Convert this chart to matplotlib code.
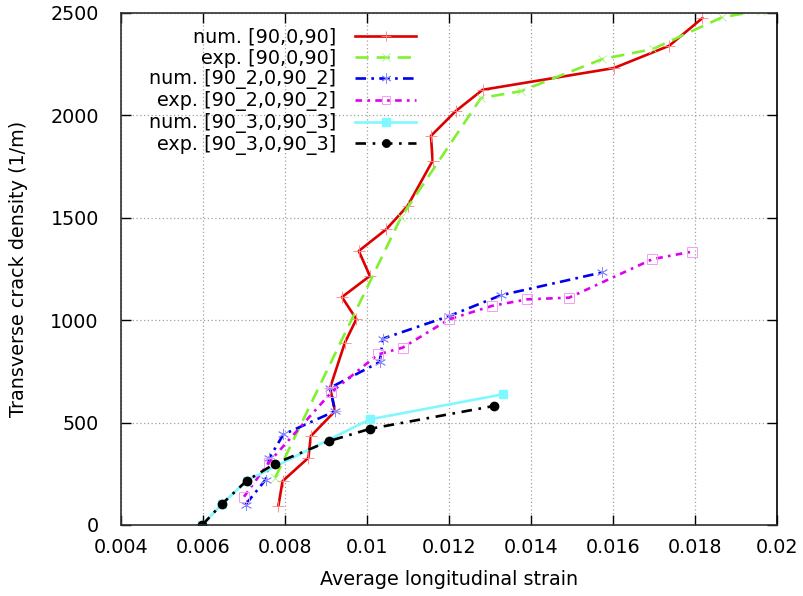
import numpy as np
import matplotlib
matplotlib.use("Agg")
import matplotlib.pyplot as plt
from matplotlib.ticker import FuncFormatter

plt.rcParams['font.family'] = ['DejaVu Sans']
FS = 13.8

# num. [90,0,90]
num1_x = [0.00784, 0.00794, 0.00857, 0.00863, 0.00922, 0.00910, 0.00946, 0.00974,
          0.00939, 0.01007, 0.00980, 0.01047, 0.01099, 0.01160, 0.01156, 0.01217,
          0.01282, 0.01602, 0.01737, 0.01818]
num1_y = [95, 214, 328, 434, 556, 670, 890, 1005, 1113, 1216, 1338, 1444, 1558,
          1778, 1900, 2022, 2125, 2231, 2340, 2475]
# exp. [90,0,90]
exp1_x = [0.00776, 0.01083, 0.01278, 0.01375, 0.01574, 0.01697, 0.01866, 0.01960]
exp1_y = [231, 1502, 2085, 2118, 2275, 2324, 2479, 2512]
# num. [90_2,0,90_2]
num2_x = [0.00704, 0.00753, 0.00762, 0.00796, 0.00922, 0.00910, 0.01031, 0.01039,
          0.01200, 0.01327, 0.01573]
num2_y = [100, 222, 328, 442, 556, 670, 796, 910, 1020, 1122, 1233]
# exp. [90_2,0,90_2]
exp2_x = [0.00700, 0.00760, 0.00913, 0.01027, 0.01087, 0.01200, 0.01305, 0.01391,
          0.01493, 0.01696, 0.01793]
exp2_y = [138, 304, 648, 833, 866, 1004, 1070, 1102, 1110, 1298, 1335]
# num. [90_3,0,90_3]
num3_x = [0.00598, 0.00647, 0.00707, 0.01007, 0.01331]
num3_y = [0, 104, 217, 516, 638]
# exp. [90_3,0,90_3]
exp3_x = [0.00598, 0.00647, 0.00707, 0.00776, 0.00908, 0.01008, 0.01309]
exp3_y = [0, 104, 217, 300, 410, 470, 581]

fig = plt.figure(figsize=(8.04, 5.96), dpi=100)
# frame: x 121..777 px, y 13..525 px
ax = fig.add_axes([121 / 804, 71 / 596, 656 / 804, 512 / 596])

lw = 1.9
ax.plot(num1_x, num1_y, color='#dd0000', lw=lw, ls='-', marker='+', ms=8,
        mec='#ff8080', mew=0.6, label='num. [90,0,90]')
ax.plot(exp1_x, exp1_y, color='#80f030', lw=lw, ls=(0, (5, 3)), marker='x', ms=6,
        mec='#b0f080', mew=0.6, label='exp. [90,0,90]')
ax.plot(num2_x, num2_y, color='#0000ee', lw=lw, ls=(0, (4, 2, 1, 2)), marker=(6, 2, 0),
        ms=8, mec='#8888ff', mew=0.6, label='num. [90_2,0,90_2]')
ax.plot(exp2_x, exp2_y, color='#e000f0', lw=lw, ls=(0, (2.5, 2, 1, 2)), marker='s', ms=7,
        mfc='none', mec='#f0a0f0', mew=0.7, label='exp. [90_2,0,90_2]')
ax.plot(num3_x, num3_y, color='#80f8ff', lw=lw, ls='-', marker='s', ms=6,
        mec='#80f8ff', mfc='#80f8ff', label='num. [90_3,0,90_3]')
ax.plot(exp3_x, exp3_y, color='black', lw=lw, ls=(0, (4, 2.5, 1, 2.5)), marker='o', ms=6,
        label='exp. [90_3,0,90_3]')

ax.set_xlim(0.004, 0.02)
ax.set_ylim(0, 2500)
ax.set_xticks(np.arange(0.004, 0.0201, 0.002))
ax.set_yticks(np.arange(0, 2501, 500))
ax.xaxis.set_major_formatter(FuncFormatter(lambda v, p: f"{v:g}"))
ax.tick_params(direction='in', top=True, right=True, length=7, width=1,
               labelsize=FS)
ax.tick_params(axis='y', pad=16)
ax.tick_params(axis='x', pad=9.5)
ax.grid(True, ls=(0, (1, 2)), color='#a0a0a0', lw=0.9)
for sp in ax.spines.values():
    sp.set_linewidth(1.2)
    sp.set_color('#303030')
ax.spines['right'].set_color('black')

ax.set_xlabel('Average longitudinal strain', fontsize=FS, labelpad=9)
ax.set_ylabel('Transverse crack density (1/m)', fontsize=FS, labelpad=16)

leg = ax.legend(loc='upper right', bbox_to_anchor=(299 / 656, 0.979), frameon=False,
                markerfirst=False, fontsize=FS, handlelength=3.17, handletextpad=1.0,
                labelspacing=0.1, borderpad=0, borderaxespad=0.2, markerscale=0.9)

fig.savefig('out.png', dpi=100)
